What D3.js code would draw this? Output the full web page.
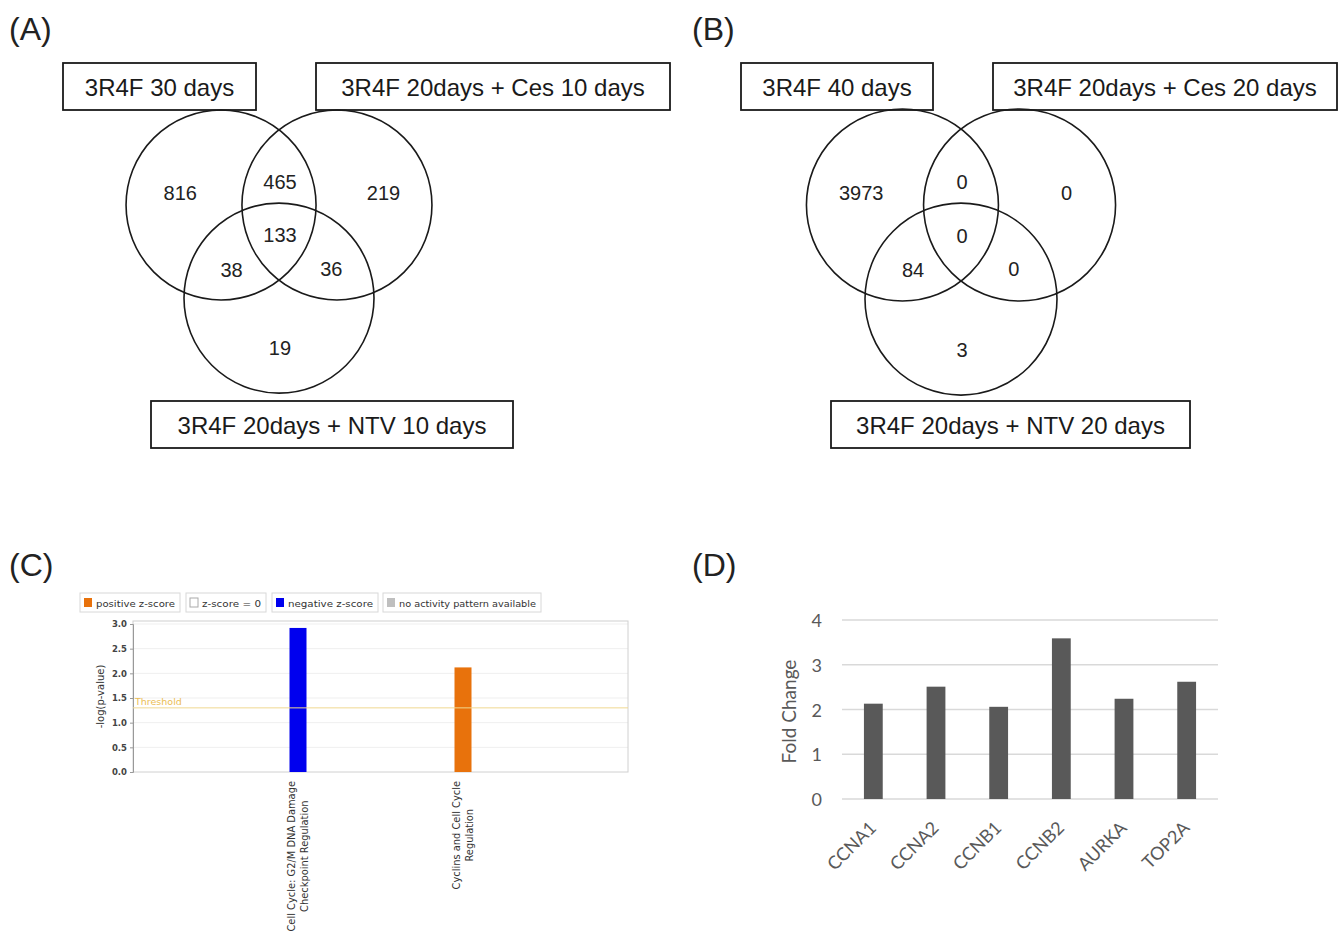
<!DOCTYPE html>
<html>
<head>
<meta charset="utf-8">
<script src="https://cdn.jsdelivr.net/npm/d3@7"></script>
<style>
  body { margin: 0; background: #fff; }
  svg { display: block; }
</style>
</head>
<body>
<svg id="fig" width="1339" height="933"></svg>
<script>
// ---- data ----
var regionKeys = ["A", "AB", "B", "ABC", "AC", "BC", "C"];

var vennA_sets = ["3R4F 30 days", "3R4F 20days + Ces 10 days", "3R4F 20days + NTV 10 days"];
var vennA_counts = [816, 465, 219, 133, 38, 36, 19];

var vennB_sets = ["3R4F 40 days", "3R4F 20days + Ces 20 days", "3R4F 20days + NTV 20 days"];
var vennB_counts = [3973, 0, 0, 0, 84, 0, 3];

var ipaCategories = ["Cell Cycle: G2/M DNA Damage|Checkpoint Regulation", "Cyclins and Cell Cycle|Regulation"];
var ipaValues = [2.92, 2.12];
var ipaZscore = ["negative", "positive"];
var ipaThreshold = 1.3;
var ipaTicks = [0, 0.5, 1, 1.5, 2, 2.5, 3];
var ipaLegend = ["positive z-score", "z-score = 0", "negative z-score", "no activity pattern available"];

var genes = ["CCNA1", "CCNA2", "CCNB1", "CCNB2", "AURKA", "TOP2A"];
var foldChange = [2.13, 2.51, 2.06, 3.59, 2.24, 2.62];
var foldTicks = [0, 1, 2, 3, 4];

var svg = d3.select("#fig");
var arial = "Liberation Sans, Arial, sans-serif";

function panelLabel(txt, x, y) {
  svg.append("text")
    .attr("x", x).attr("y", y)
    .style("font-family", arial)
    .style("font-size", "32px")
    .style("fill", "#222")
    .text(txt);
}

panelLabel("(A)", 9, 40);
panelLabel("(B)", 692, 40);
panelLabel("(C)", 9, 576);
panelLabel("(D)", 692, 576);

// ---- venn diagrams ----
// circle centres relative to diagram centre, in units of the radius
var circleOffsets = { A: [-0.61, 0], B: [0.61, 0], C: [0, 0.98] };
var regionOffsets = {
  A: [-1.04, -0.13], AB: [0.01, -0.24], B: [1.1, -0.13],
  ABC: [0.01, 0.32], AC: [-0.5, 0.68], BC: [0.55, 0.67], C: [0.01, 1.51]
};

function venn(cx, cy, r, sets, counts, boxes) {
  // set name boxes (absolute page positions)
  boxes.forEach(function(b, i) {
    svg.append("rect")
      .attr("x", b[0]).attr("y", b[1])
      .attr("width", b[2]).attr("height", 47)
      .attr("fill", "#fff")
      .attr("stroke", "#1a1a1a")
      .attr("stroke-width", 1.8);
    svg.append("text")
      .attr("x", b[0] + b[2] / 2).attr("y", b[1] + 24)
      .attr("text-anchor", "middle")
      .attr("dominant-baseline", "central")
      .style("font-family", arial)
      .style("font-size", "24px")
      .style("fill", "#1a1a1a")
      .text(sets[i]);
  });

  var g = svg.append("g").attr("transform", "translate(" + cx + "," + cy + ")");
  var keys = ["A", "B", "C"];

  g.selectAll("circle")
    .data(keys)
    .enter().append("circle")
      .attr("cx", function(k) { return circleOffsets[k][0] * r; })
      .attr("cy", function(k) { return circleOffsets[k][1] * r; })
      .attr("r", r)
      .attr("fill", "none")
      .attr("stroke", "#1a1a1a")
      .attr("stroke-width", 1.6);

  g.selectAll("text.count")
    .data(counts)
    .enter().append("text")
      .attr("class", "count")
      .attr("x", function(d, i) { return regionOffsets[regionKeys[i]][0] * r; })
      .attr("y", function(d, i) { return regionOffsets[regionKeys[i]][1] * r; })
      .attr("text-anchor", "middle")
      .attr("dominant-baseline", "central")
      .style("font-family", arial)
      .style("font-size", "20px")
      .style("fill", "#222")
      .text(function(d) { return d; });
}

venn(279, 205, 95, vennA_sets, vennA_counts,
  [[63, 63, 193], [316, 63, 354], [151, 401, 362]]);
venn(961, 205, 96, vennB_sets, vennB_counts,
  [[741, 63, 192], [993, 63, 344], [831, 401, 359]]);

// ---- panel C: IPA canonical pathways ----
(function() {
  var m = { left: 133, right: 628, top: 621, bottom: 772 };
  var g = svg.append("g");
  var font = "DejaVu Sans, Verdana, sans-serif";
  var zColor = { positive: "#e8720c", zero: "#ffffff", negative: "#0000ee", none: "#bfbfbf" };

  // legend
  var legendX = [80, 186, 272, 383];
  var legendW = [100, 80, 106, 158];
  var legendKeys = ["positive", "zero", "negative", "none"];
  ipaLegend.forEach(function(t, i) {
    var lg = g.append("g").attr("transform", "translate(" + legendX[i] + ",593)");
    lg.append("rect").attr("width", legendW[i]).attr("height", 19)
      .attr("fill", "#fff").attr("stroke", "#d8d8d8");
    lg.append("rect").attr("x", 4).attr("y", 5).attr("width", 8).attr("height", 9)
      .attr("fill", zColor[legendKeys[i]])
      .attr("stroke", legendKeys[i] === "zero" ? "#aaa" : "none");
    lg.append("text").attr("x", 16).attr("y", 13.5)
      .attr("textLength", legendW[i] - 21).attr("lengthAdjust", "spacingAndGlyphs")
      .style("font-family", font).style("font-size", "9.5px").style("fill", "#333")
      .text(t);
  });

  var y = d3.scaleLinear().domain([0, 3]).range([m.bottom, m.top + 3]);
  var x = d3.scalePoint().domain(ipaCategories).range([m.left, m.right]).padding(1);

  g.selectAll("line.grid")
    .data(ipaTicks.slice(1))
    .enter().append("line")
      .attr("class", "grid")
      .attr("x1", m.left).attr("x2", m.right)
      .attr("y1", function(d) { return y(d); }).attr("y2", function(d) { return y(d); })
      .attr("stroke", "#efefef");

  g.append("rect")
    .attr("x", m.left).attr("y", m.top)
    .attr("width", m.right - m.left).attr("height", m.bottom - m.top)
    .attr("fill", "none").attr("stroke", "#d0d0d0");

  var yAxis = g.append("g")
    .attr("transform", "translate(" + m.left + ",0)")
    .call(d3.axisLeft(y).tickValues(ipaTicks).tickFormat(d3.format(".1f")).tickSize(3));
  yAxis.select(".domain").attr("stroke", "#999");
  yAxis.selectAll(".tick line").attr("stroke", "#999");
  yAxis.selectAll("text")
    .style("font-family", font).style("font-size", "8.5px").style("font-weight", "bold").style("fill", "#444");

  g.append("text")
    .attr("transform", "translate(104," + ((m.top + m.bottom) / 2) + ") rotate(-90)")
    .attr("text-anchor", "middle")
    .style("font-family", font).style("font-size", "10px").style("fill", "#333")
    .text("-log(p-value)");

  g.selectAll("rect.bar")
    .data(ipaValues)
    .enter().append("rect")
      .attr("class", "bar")
      .attr("x", function(d, i) { return x(ipaCategories[i]) - 8.5; })
      .attr("y", function(d) { return y(d); })
      .attr("width", 17)
      .attr("height", function(d) { return y(0) - y(d); })
      .attr("fill", function(d, i) { return zColor[ipaZscore[i]]; });

  g.append("line")
    .attr("x1", m.left).attr("x2", m.right)
    .attr("y1", y(ipaThreshold)).attr("y2", y(ipaThreshold))
    .attr("stroke", "#f0d890").attr("stroke-width", 1);
  g.append("text")
    .attr("x", m.left + 2).attr("y", y(ipaThreshold) - 3)
    .style("font-family", font).style("font-size", "9.5px").style("fill", "#ebbd54")
    .text("Threshold");

  // rotated two-line category labels, centred on each other, top-aligned
  ipaCategories.forEach(function(c, i) {
    var lines = c.split("|");
    var cx = x(c);
    var maxLen = 0;
    var tg = g.append("g");
    lines.forEach(function(l) {
      tg.append("text")
        .attr("text-anchor", "middle")
        .style("font-family", font).style("font-size", "9.9px").style("fill", "#333")
        .text(l);
    });
    tg.selectAll("text").each(function() {
      maxLen = Math.max(maxLen, this.getComputedTextLength());
    });
    tg.selectAll("text").attr("transform", function(d, j) {
      return "translate(" + (cx - 3 + j * 13) + "," + (781 + maxLen / 2) + ") rotate(-90)";
    });
  });
})();

// ---- panel D: fold change ----
(function() {
  var m = { left: 842, right: 1218, top: 620, bottom: 799 };
  var font = "Lato, Open Sans, sans-serif";
  var g = svg.append("g");

  var x = d3.scaleBand().domain(genes).range([m.left, m.right]).paddingInner(0.7).paddingOuter(0.35);
  var y = d3.scaleLinear().domain([0, 4]).range([m.bottom, m.top]);

  g.selectAll("line.grid")
    .data(foldTicks)
    .enter().append("line")
      .attr("class", "grid")
      .attr("x1", m.left).attr("x2", m.right)
      .attr("y1", function(d) { return y(d); }).attr("y2", function(d) { return y(d); })
      .attr("stroke", "#d9d9d9").attr("stroke-width", 1.5);

  g.selectAll("text.ytick")
    .data(foldTicks)
    .enter().append("text")
      .attr("class", "ytick")
      .attr("x", 822).attr("y", function(d) { return y(d); })
      .attr("text-anchor", "end")
      .attr("dominant-baseline", "central")
      .style("font-family", font).style("font-size", "18px").style("fill", "#595959")
      .text(function(d) { return d; });

  g.selectAll("rect.bar")
    .data(foldChange)
    .enter().append("rect")
      .attr("class", "bar")
      .attr("x", function(d, i) { return x(genes[i]); })
      .attr("y", function(d) { return y(d); })
      .attr("width", x.bandwidth())
      .attr("height", function(d) { return y(0) - y(d); })
      .attr("fill", "#595959");

  g.selectAll("text.xlab")
    .data(genes)
    .enter().append("text")
      .attr("class", "xlab")
      .attr("transform", function(d) {
        return "translate(" + (x(d) + x.bandwidth() / 2 + 4) + ",829) rotate(-45)";
      })
      .attr("text-anchor", "end")
      .style("font-family", font).style("font-size", "18px").style("fill", "#595959")
      .text(function(d) { return d; });

  g.append("text")
    .attr("transform", "translate(796," + ((m.top + m.bottom) / 2 + 2) + ") rotate(-90)")
    .attr("text-anchor", "middle")
    .style("font-family", font).style("font-size", "19px").style("fill", "#595959")
    .text("Fold Change");
})();
</script>
</body>
</html>
